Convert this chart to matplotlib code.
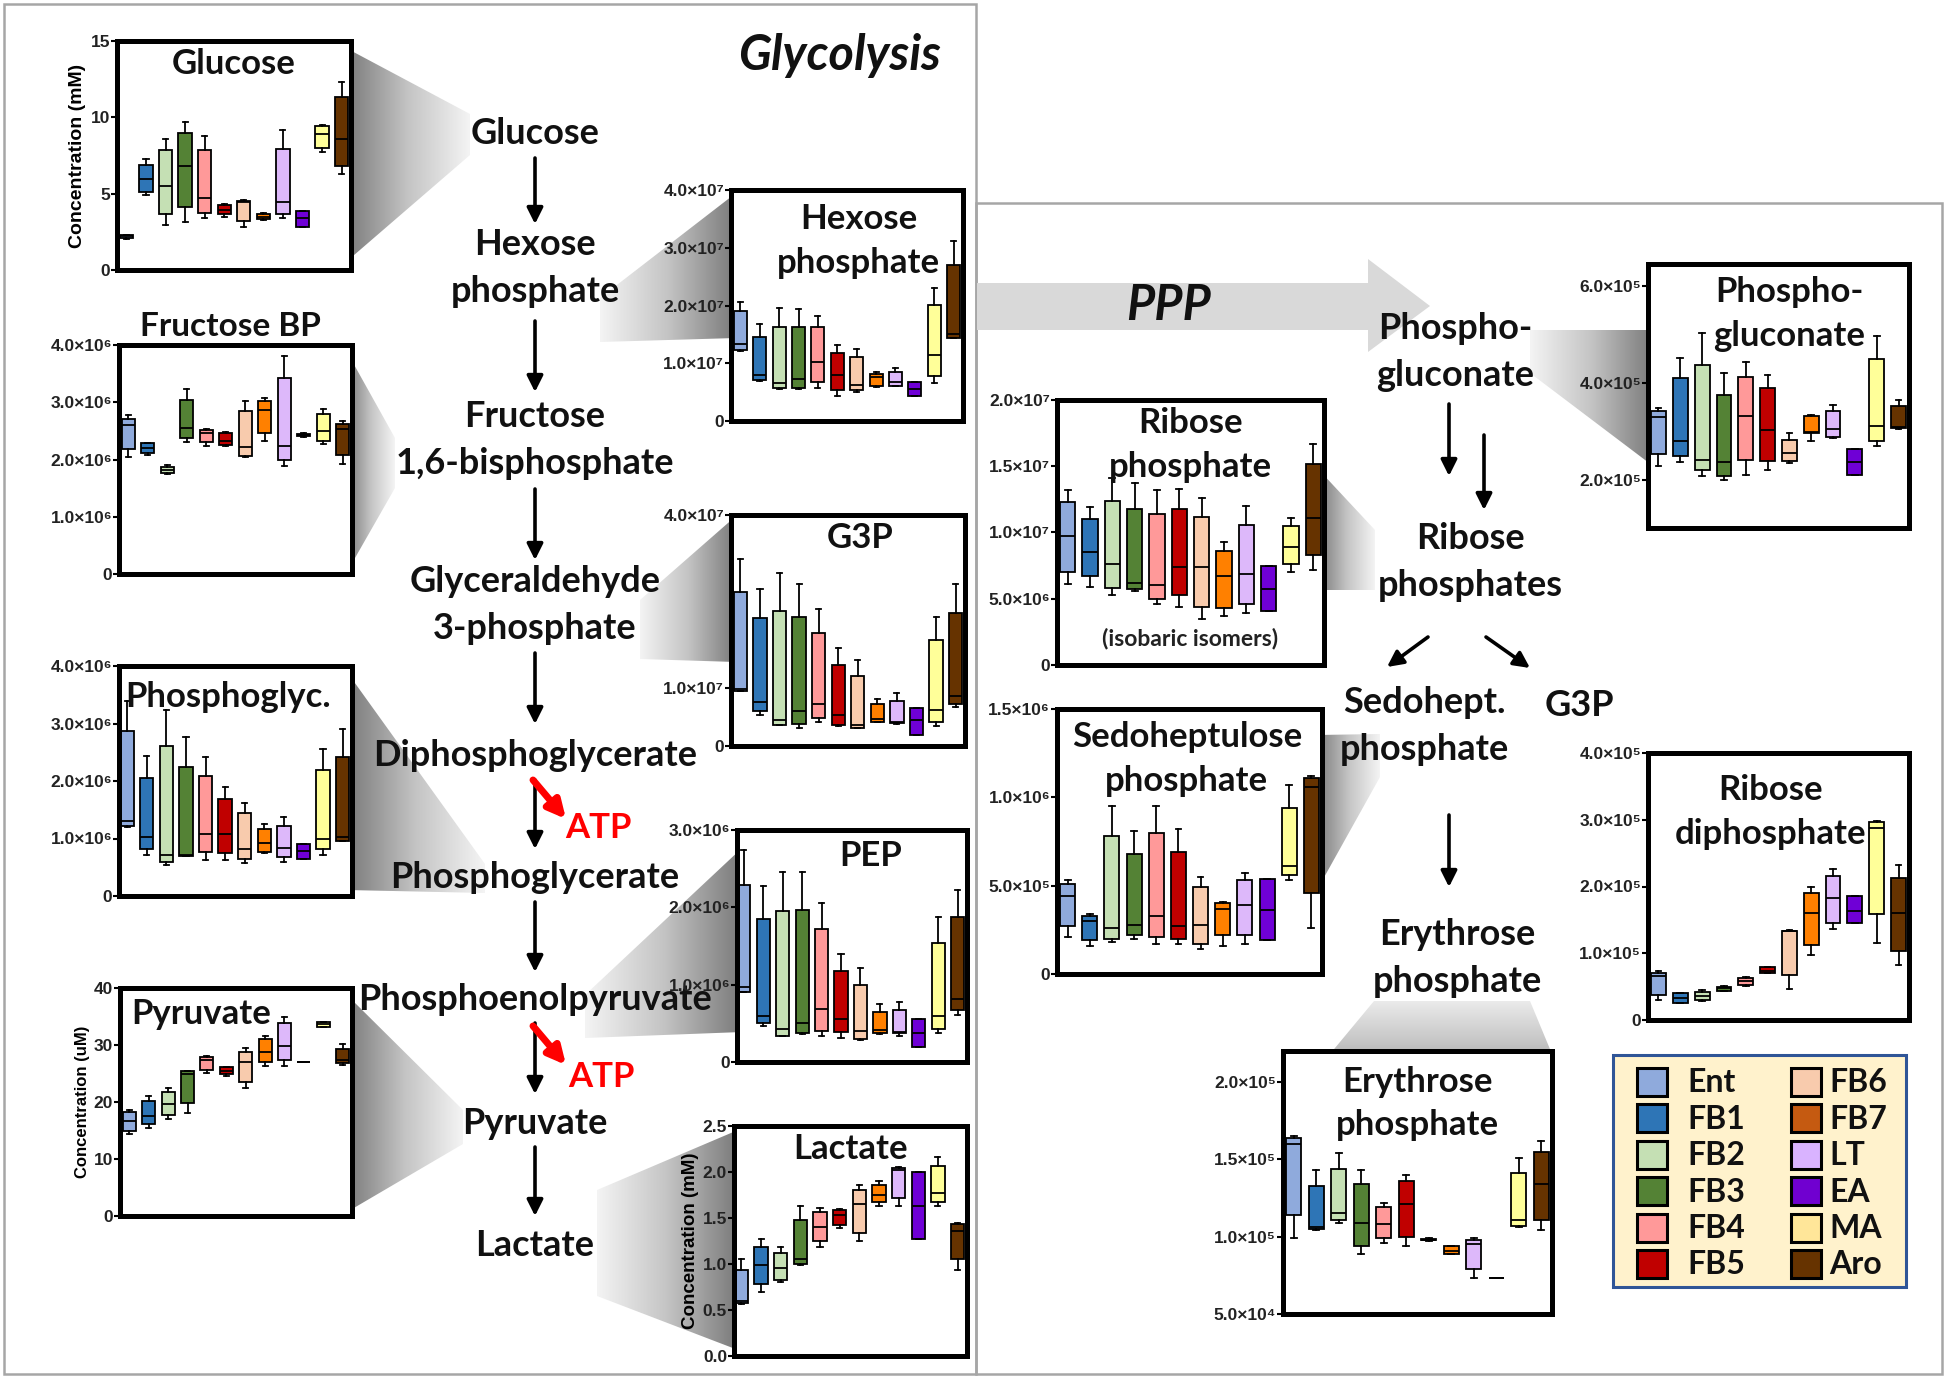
import numpy as np
import matplotlib
matplotlib.use('Agg')
import matplotlib.pyplot as plt
from matplotlib.patches import Rectangle, Polygon
from matplotlib.colors import LinearSegmentedColormap

plt.rcParams['font.family'] = ['Liberation Sans', 'DejaVu Sans']
LATO = ['Lato', 'DejaVu Sans']

# ---------------- data ----------------
groups = ['Ent', 'FB1', 'FB2', 'FB3', 'FB4', 'FB5', 'FB6', 'FB7', 'LT', 'EA', 'MA', 'Aro']
box_colors = ['#8FAADC', '#2E75B6', '#C5E0B4', '#548235', '#FF9999', '#C00000',
              '#F8CBAD', '#FF8000', '#DDB8FA', '#6F00D6', '#FFFF99', '#663300']
legend_colors = ['#8FAADC', '#2E75B6', '#C5E0B4', '#548235', '#FF9999', '#C00000',
                 '#F8CBAD', '#C55A11', '#D9B3FF', '#7000D0', '#FFE699', '#663300']

# five-number summaries per group: [min, q1, median, q3, max]
glucose = [[2.05, 2.1, 2.2, 2.3, 2.3], [4.9, 5.1, 5.95, 6.85, 7.25], [2.95, 3.65, 5.5, 7.85, 8.6],
           [3.15, 4.15, 6.8, 9.0, 9.7], [3.4, 3.75, 4.7, 7.85, 8.75], [3.5, 3.65, 3.95, 4.25, 4.3],
           [2.8, 3.2, 4.45, 4.55, 4.6], [3.3, 3.35, 3.5, 3.65, 3.75], [3.4, 3.7, 4.45, 7.95, 9.15],
           [2.8, 2.8, 3.4, 3.85, 3.85], [7.7, 8.0, 8.9, 9.4, 9.5], [6.3, 6.8, 8.55, 11.3, 12.3]]
fructose_bp = [[2.05, 2.18, 2.6, 2.7, 2.77], [2.08, 2.11, 2.2, 2.28, 2.29], [1.74, 1.76, 1.82, 1.87, 1.9],
               [2.3, 2.37, 2.55, 3.04, 3.23], [2.24, 2.3, 2.46, 2.52, 2.53], [2.24, 2.26, 2.33, 2.46, 2.48],
               [2.04, 2.06, 2.21, 2.84, 3.03], [2.33, 2.46, 2.86, 3.02, 3.07], [1.89, 1.99, 2.24, 3.42, 3.8],
               [2.40, 2.41, 2.43, 2.45, 2.46], [2.27, 2.33, 2.49, 2.8, 2.89], [1.92, 2.08, 2.53, 2.62, 2.68]]
phosphoglyc = [[1.2, 1.22, 1.3, 2.87, 3.39], [0.72, 0.82, 1.03, 2.06, 2.43], [0.54, 0.6, 0.72, 2.61, 3.23],
               [0.69, 0.7, 0.72, 2.24, 2.77], [0.63, 0.77, 1.07, 2.09, 2.42], [0.63, 0.74, 1.07, 1.68, 1.9],
               [0.57, 0.64, 0.82, 1.44, 1.62], [0.74, 0.77, 0.93, 1.16, 1.26], [0.6, 0.67, 0.84, 1.22, 1.38],
               [0.64, 0.64, 0.78, 0.9, 0.9], [0.72, 0.82, 1.0, 2.19, 2.56], [0.95, 0.96, 1.03, 2.42, 2.9]]
pyruvate = [[14.3, 14.9, 16.6, 18.2, 18.6], [15.5, 16.1, 17.6, 20.2, 21.1], [17.1, 17.7, 19.7, 21.8, 22.4],
            [18.0, 19.9, 24.9, 25.4, 25.5], [25.1, 25.7, 27.3, 27.9, 28.0], [24.5, 24.9, 25.5, 26.1, 26.2],
            [22.4, 23.5, 27.1, 28.8, 29.5], [26.4, 27.1, 28.8, 31.0, 31.6], [26.4, 27.3, 29.8, 33.8, 34.9],
            [27.1, 27.1, 27.1, 27.1, 27.1], [33.2, 33.2, 33.6, 34.0, 34.0], [26.5, 26.8, 27.3, 29.3, 30.1]]
hexose_p = [[1.22, 1.23, 1.33, 1.9, 2.06], [0.69, 0.71, 0.8, 1.46, 1.68], [0.56, 0.57, 0.66, 1.62, 1.96],
            [0.56, 0.58, 0.72, 1.62, 1.94], [0.57, 0.68, 1.02, 1.62, 1.81], [0.44, 0.53, 0.79, 1.17, 1.31],
            [0.5, 0.53, 0.63, 1.1, 1.24], [0.59, 0.6, 0.76, 0.82, 0.84], [0.6, 0.61, 0.67, 0.84, 0.91],
            [0.44, 0.44, 0.55, 0.68, 0.68], [0.65, 0.78, 1.15, 2.01, 2.31], [1.43, 1.43, 1.5, 2.7, 3.11]]
g3p = [[0.95, 0.96, 0.99, 2.67, 3.24], [0.53, 0.6, 0.77, 2.21, 2.72], [0.36, 0.37, 0.45, 2.33, 2.99],
       [0.31, 0.38, 0.6, 2.24, 2.8], [0.41, 0.48, 0.72, 1.96, 2.37], [0.35, 0.37, 0.53, 1.41, 1.69],
       [0.31, 0.32, 0.37, 1.22, 1.49], [0.41, 0.42, 0.47, 0.72, 0.81], [0.38, 0.39, 0.41, 0.78, 0.91],
       [0.19, 0.19, 0.45, 0.65, 0.65], [0.35, 0.42, 0.63, 1.83, 2.24], [0.67, 0.73, 0.87, 2.3, 2.8]]
pep = [[0.9, 0.91, 0.97, 2.29, 2.74], [0.47, 0.5, 0.59, 1.85, 2.27], [0.33, 0.34, 0.43, 1.95, 2.46],
       [0.36, 0.37, 0.5, 1.96, 2.46], [0.33, 0.4, 0.68, 1.72, 2.06], [0.31, 0.39, 0.56, 1.18, 1.4],
       [0.28, 0.3, 0.4, 1.0, 1.22], [0.36, 0.37, 0.42, 0.65, 0.75], [0.33, 0.37, 0.39, 0.67, 0.78],
       [0.19, 0.19, 0.37, 0.55, 0.55], [0.37, 0.43, 0.59, 1.54, 1.88], [0.61, 0.67, 0.82, 1.87, 2.23]]
lactate = [[0.57, 0.58, 0.6, 0.93, 1.05], [0.7, 0.78, 0.99, 1.19, 1.27], [0.8, 0.83, 0.96, 1.12, 1.19],
           [0.99, 1.0, 1.05, 1.48, 1.63], [1.19, 1.25, 1.4, 1.57, 1.61], [1.39, 1.42, 1.53, 1.59, 1.6],
           [1.25, 1.34, 1.65, 1.8, 1.86], [1.63, 1.67, 1.75, 1.86, 1.9], [1.63, 1.72, 2.02, 2.04, 2.05],
           [1.27, 1.27, 1.63, 2.0, 2.0], [1.63, 1.67, 1.77, 2.06, 2.16], [0.93, 1.05, 1.36, 1.43, 1.45]]
ribose_p = [[0.61, 0.7, 0.97, 1.23, 1.32], [0.59, 0.67, 0.85, 1.1, 1.19], [0.53, 0.58, 0.76, 1.24, 1.41],
            [0.56, 0.57, 0.62, 1.18, 1.37], [0.46, 0.5, 0.6, 1.14, 1.32], [0.44, 0.53, 0.74, 1.18, 1.33],
            [0.35, 0.44, 0.74, 1.12, 1.26], [0.37, 0.43, 0.67, 0.86, 0.93], [0.39, 0.46, 0.69, 1.06, 1.2],
            [0.41, 0.41, 0.57, 0.75, 0.75], [0.7, 0.76, 0.89, 1.05, 1.11], [0.72, 0.83, 1.11, 1.52, 1.67]]
sedoheptulose_p = [[0.21, 0.27, 0.44, 0.51, 0.53], [0.16, 0.19, 0.3, 0.33, 0.34], [0.18, 0.2, 0.26, 0.78, 0.95],
                   [0.2, 0.22, 0.28, 0.68, 0.81], [0.17, 0.21, 0.33, 0.8, 0.95], [0.17, 0.2, 0.27, 0.69, 0.82],
                   [0.14, 0.17, 0.28, 0.49, 0.55], [0.16, 0.22, 0.37, 0.4, 0.41], [0.17, 0.22, 0.39, 0.53, 0.57],
                   [0.19, 0.19, 0.36, 0.54, 0.54], [0.53, 0.56, 0.61, 0.94, 1.07], [0.26, 0.46, 1.06, 1.11, 1.12]]
phosphogluconate = [[2.29, 2.52, 3.29, 3.42, 3.47], [2.37, 2.48, 2.8, 4.09, 4.5], [2.07, 2.19, 2.41, 4.37, 5.02],
                    [1.99, 2.08, 2.37, 3.75, 4.2], [2.1, 2.41, 3.32, 4.12, 4.42], [2.19, 2.39, 3.02, 3.9, 4.16],
                    [2.34, 2.38, 2.55, 2.82, 2.96], [2.8, 2.96, 2.98, 3.32, 3.33], [2.85, 2.87, 3.04, 3.42, 3.54],
                    [2.1, 2.1, 2.37, 2.63, 2.63], [2.7, 2.8, 3.11, 4.49, 4.97], [3.05, 3.06, 3.08, 3.51, 3.65]]
ribose_dp = [[0.3, 0.38, 0.66, 0.7, 0.73], [0.25, 0.26, 0.33, 0.4, 0.41], [0.29, 0.3, 0.36, 0.42, 0.45],
             [0.43, 0.44, 0.48, 0.5, 0.51], [0.51, 0.53, 0.58, 0.63, 0.64], [0.7, 0.7, 0.74, 0.79, 0.8],
             [0.46, 0.68, 1.33, 1.34, 1.35], [0.97, 1.13, 1.61, 1.9, 1.99], [1.36, 1.46, 1.83, 2.15, 2.26],
             [1.46, 1.46, 1.64, 1.86, 1.86], [1.16, 1.59, 2.87, 2.96, 2.98], [0.83, 1.03, 1.6, 2.12, 2.32]]
erythrose_p = [[0.99, 1.14, 1.6, 1.64, 1.65], [1.04, 1.05, 1.06, 1.33, 1.43], [1.09, 1.11, 1.15, 1.44, 1.54],
               [0.89, 0.94, 1.09, 1.34, 1.43], [0.96, 0.99, 1.08, 1.19, 1.22], [0.94, 1.0, 1.21, 1.36, 1.4],
               [0.975, 0.978, 0.98, 0.985, 0.99], [0.89, 0.89, 0.91, 0.94, 0.94], [0.73, 0.79, 0.95, 0.98, 0.99],
               [0.73, 0.73, 0.73, 0.73, 0.73], [1.06, 1.07, 1.11, 1.41, 1.51], [1.04, 1.11, 1.34, 1.55, 1.62]]

# tick values (in the axis units) and their labels
glucose_ticks = [0, 5, 10, 15];  glucose_labels = ['0', '5', '10', '15']
e6_ticks = [0, 1, 2, 3, 4];      e6_labels = ['0', '1.0×10⁶', '2.0×10⁶', '3.0×10⁶', '4.0×10⁶']
pyruvate_ticks = [0, 10, 20, 30, 40]; pyruvate_labels = ['0', '10', '20', '30', '40']
hexose_ticks = [0, 1, 2, 3, 4];  hexose_labels = ['0', '1.0×10⁷', '2.0×10⁷', '3.0×10⁷', '4.0×10⁷']
g3p_ticks = [0, 1, 4];           g3p_labels = ['0', '1.0×10⁷', '4.0×10⁷']
pep_ticks = [0, 1, 2, 3];        pep_labels = ['0', '1.0×10⁶', '2.0×10⁶', '3.0×10⁶']
lactate_ticks = [0, 0.5, 1.0, 1.5, 2.0, 2.5]; lactate_labels = ['0.0', '0.5', '1.0', '1.5', '2.0', '2.5']
ribp_ticks = [0, 0.5, 1.0, 1.5, 2.0]; ribp_labels = ['0', '5.0×10⁶', '1.0×10⁷', '1.5×10⁷', '2.0×10⁷']
sedo_ticks = [0, 0.5, 1.0, 1.5]; sedo_labels = ['0', '5.0×10⁵', '1.0×10⁶', '1.5×10⁶']
pg_ticks = [2, 4, 6];            pg_labels = ['2.0×10⁵', '4.0×10⁵', '6.0×10⁵']
rdp_ticks = [0, 1, 2, 3, 4];     rdp_labels = ['0', '1.0×10⁵', '2.0×10⁵', '3.0×10⁵', '4.0×10⁵']
ery_ticks = [0.5, 1.0, 1.5, 2.0]; ery_labels = ['5.0×10⁴', '1.0×10⁵', '1.5×10⁵', '2.0×10⁵']

# ---------------- figure ----------------
W, H = 1950, 1380
fig = plt.figure(figsize=(W / 100, H / 100), dpi=100)
fig.patch.set_facecolor('white')
bg = fig.add_axes([0, 0, 1, 1], zorder=0)
bg.set_xlim(0, W); bg.set_ylim(H, 0); bg.axis('off')

bg.add_patch(Rectangle((4, 4), 972, 1370, fill=False, ec='#A6A6A6', lw=1.8, zorder=1))
bg.add_patch(Rectangle((976, 203), 966, 1171, fill=False, ec='#A6A6A6', lw=1.8, zorder=1))

fcmap = LinearSegmentedColormap.from_list('funnel', ['#F4F4F4', '#C4C4C4', '#7A7A7A'])


def funnel(pts, dark):
    poly = Polygon(pts, closed=True, fc='none', ec='none')
    bg.add_patch(poly)
    xs = [p[0] for p in pts]; ys = [p[1] for p in pts]
    if dark == 'down':
        grad = np.linspace(0.1, 0.6, 256).reshape(-1, 1)
    else:
        grad = np.linspace(0, 1, 256).reshape(1, -1)
        if dark == 'left':
            grad = grad[:, ::-1]
    im = bg.imshow(grad, extent=[min(xs), max(xs), max(ys), min(ys)], cmap=fcmap,
                   vmin=0, vmax=1, aspect='auto', interpolation='bilinear', zorder=2)
    im.set_clip_path(poly)


funnel([(346, 48), (470, 114), (470, 155), (346, 262)], 'left')
funnel([(347, 352), (395, 438), (395, 488), (347, 572)], 'left')
funnel([(347, 672), (485, 864), (485, 893), (347, 890)], 'left')
funnel([(347, 995), (463, 1110), (463, 1144), (347, 1212)], 'left')
funnel([(600, 298), (736, 193), (736, 338), (600, 342)], 'right')
funnel([(640, 600), (736, 516), (736, 662), (640, 659)], 'right')
funnel([(585, 995), (742, 848), (742, 1032), (585, 1038)], 'right')
funnel([(597, 1190), (738, 1130), (738, 1350), (597, 1296)], 'right')
funnel([(1319, 470), (1375, 530), (1375, 590), (1319, 590)], 'left')
funnel([(1317, 735), (1380, 734), (1380, 777), (1317, 890)], 'left')
funnel([(1530, 330), (1653, 330), (1653, 466), (1530, 373)], 'right')
funnel([(1374, 1001), (1530, 1001), (1552, 1054), (1330, 1054)], 'down')
bg.set_xlim(0, W); bg.set_ylim(H, 0)

# PPP block arrow
bg.add_patch(Polygon([(977, 283), (1368, 283), (1368, 259), (1430, 306), (1368, 352), (1368, 330), (977, 330)],
                     closed=True, fc='#D9D9D9', ec='none', zorder=2))


def arrow(x0, y0, x1, y1, color='black', lw=2.6, ms=24):
    bg.annotate('', xy=(x1, y1), xytext=(x0, y0), zorder=4,
                arrowprops=dict(arrowstyle='-|>', color=color, lw=lw, mutation_scale=ms,
                                shrinkA=0, shrinkB=0))


for y0, y1 in [(158, 224), (321, 392), (489, 560), (653, 724), (780, 849), (902, 972), (1023, 1094), (1147, 1216)]:
    arrow(535, y0, 535, y1)
arrow(533, 780, 566, 819, color='#FF0000', lw=5, ms=26)
arrow(533, 1026, 566, 1065, color='#FF0000', lw=5, ms=26)
arrow(1449, 404, 1449, 476)
arrow(1484, 435, 1484, 510)
arrow(1428, 637, 1387, 667)
arrow(1486, 637, 1530, 668)
arrow(1449, 815, 1449, 887)

lab_kw = dict(family=LATO, fontweight='bold', fontsize=26, ha='center', va='center', zorder=5,
              linespacing=1.5, color='#111111')
bg.text(535, 133, 'Glucose', **lab_kw)
bg.text(535, 268, 'Hexose\nphosphate', **lab_kw)
bg.text(535, 440, 'Fructose\n1,6-bisphosphate', **lab_kw)
bg.text(535, 605, 'Glyceraldehyde\n3-phosphate', **lab_kw)
bg.text(535, 755, 'Diphosphoglycerate', **lab_kw)
bg.text(535, 877, 'Phosphoglycerate', **lab_kw)
bg.text(535, 999, 'Phosphoenolpyruvate', **lab_kw)
bg.text(535, 1123, 'Pyruvate', **lab_kw)
bg.text(535, 1245, 'Lactate', **lab_kw)
atp_kw = dict(lab_kw); atp_kw['color'] = '#FF0000'; atp_kw['fontsize'] = 25
bg.text(598, 828, 'ATP', **atp_kw)
bg.text(601, 1077, 'ATP', **atp_kw)
bg.text(1455, 352, 'Phospho-\ngluconate', **lab_kw)
bg.text(1470, 562, 'Ribose\nphosphates', **lab_kw)
bg.text(1424, 726, 'Sedohept.\nphosphate', **lab_kw)
bg.text(1579, 705, 'G3P', **lab_kw)
bg.text(1457, 958, 'Erythrose\nphosphate', **lab_kw)
bg.text(839, 56, 'Glycolysis', family=LATO, fontweight='bold', fontstyle='italic', fontsize=35,
        ha='center', va='center', zorder=5, color='#111111')
bg.text(1169, 305, 'PPP', family=LATO, fontweight='bold', fontstyle='italic', fontsize=35,
        ha='center', va='center', zorder=5, color='#111111')
bg.text(230, 327, 'Fructose BP', family=LATO, fontweight='bold', fontsize=24,
        ha='center', va='center', zorder=5, color='#111111')

# legend
bg.add_patch(Rectangle((1613, 1055), 293, 232, fc='#FFF2CC', ec='#2F5597', lw=2.2, zorder=3))
for i, (g, c) in enumerate(zip(groups, legend_colors)):
    col, row = divmod(i, 6)
    yc = 1082 + row * 36.4
    xp = 1637 if col == 0 else 1791
    bg.add_patch(Rectangle((xp, yc - 14), 30, 28, fc=c, ec='black', lw=2.2, zorder=4))
    bg.text(xp + 50 if col == 0 else xp + 38, yc + 1, g, family=LATO, fontweight='bold', fontsize=23,
            ha='left', va='center', zorder=5, color='#111111')


def panel(frame, data, ylim, ticks, labels, title, tpos, tsize=25, ylabel=None, ylsize=13,
          xlim=(-0.48, 11.48)):
    x0, y0, x1, y1 = frame
    ax = fig.add_axes([x0 / W, 1 - y1 / H, (x1 - x0) / W, (y1 - y0) / H], zorder=3)
    stats = [dict(whislo=s[0], q1=s[1], med=s[2], q3=s[3], whishi=s[4]) for s in data]
    bp = ax.bxp(stats, positions=np.arange(len(groups)), widths=0.68, capwidths=0.26,
                patch_artist=True, showfliers=False,
                boxprops=dict(edgecolor='black', linewidth=1.3),
                whiskerprops=dict(color='black', linewidth=1.3),
                capprops=dict(color='black', linewidth=1.3),
                medianprops=dict(color='black', linewidth=1.3))
    for patch, c in zip(bp['boxes'], box_colors):
        patch.set_facecolor(c)
    ax.set_xlim(*xlim)
    ax.set_ylim(*ylim)
    ax.set_xticks([])
    ax.set_yticks(ticks)
    ax.set_yticklabels(labels, fontsize=12.5, fontweight='bold', color='#222222')
    ax.tick_params(axis='y', direction='out', length=4, width=1.5, pad=1)
    for sp in ax.spines.values():
        sp.set_linewidth(3.6)
        sp.set_color('black')
    if ylabel:
        ax.set_ylabel(ylabel, fontsize=ylsize, fontweight='bold', labelpad=3)
    if title:
        ax.text(tpos[0], tpos[1], title, transform=ax.transAxes, ha='center', va='center',
                family=LATO, fontweight='bold', fontsize=tsize, linespacing=1.45, zorder=6,
                color='#111111')
    return ax


panel((117, 41, 351, 270), glucose, (0, 15), glucose_ticks, glucose_labels, 'Glucose', (0.5, 0.90),
      ylabel='Concentration (mM)', ylsize=14)
panel((119, 345, 352, 574), fructose_bp, (0, 4), e6_ticks, e6_labels, None, None)
panel((119, 666, 352, 896), phosphoglyc, (0, 4), e6_ticks, e6_labels, 'Phosphoglyc.', (0.47, 0.865),
      xlim=(-0.42, 11.48))
panel((120, 988, 352, 1216), pyruvate, (0, 40), pyruvate_ticks, pyruvate_labels, 'Pyruvate', (0.35, 0.885),
      ylabel='Concentration (uM)', ylsize=12)
panel((731, 190, 963, 421), hexose_p, (0, 4), hexose_ticks, hexose_labels, 'Hexose\nphosphate', (0.55, 0.78))
panel((731, 515, 965, 746), g3p, (0, 4), g3p_ticks, g3p_labels, 'G3P', (0.55, 0.90))
panel((737, 830, 967, 1062), pep, (0, 3), pep_ticks, pep_labels, 'PEP', (0.58, 0.89), xlim=(-0.35, 11.48))
panel((734, 1126, 967, 1356), lactate, (0, 2.5), lactate_ticks, lactate_labels, 'Lactate', (0.50, 0.90),
      ylabel='Concentration (mM)', ylsize=13.5, xlim=(-0.38, 11.48))
ax_rp = panel((1057, 400, 1324, 665), ribose_p, (0, 2.0), ribp_ticks, ribp_labels, 'Ribose\nphosphate', (0.50, 0.83))
ax_rp.text(0.5, 0.10, '(isobaric isomers)', transform=ax_rp.transAxes, ha='center', va='center',
           family=LATO, fontweight='bold', fontsize=16.5, zorder=6, color='#222222')
panel((1057, 709, 1322, 974), sedoheptulose_p, (0, 1.5), sedo_ticks, sedo_labels, 'Sedoheptulose\nphosphate',
      (0.49, 0.81))
panel((1648, 264, 1909, 528), phosphogluconate, (1.0, 6.45), pg_ticks, pg_labels, 'Phospho-\ngluconate',
      (0.54, 0.81))
panel((1648, 753, 1909, 1020), ribose_dp, (0, 4), rdp_ticks, rdp_labels, 'Ribose\ndiphosphate', (0.47, 0.78))
panel((1283, 1051, 1552, 1314), erythrose_p, (0.5, 2.2), ery_ticks, ery_labels, 'Erythrose\nphosphate',
      (0.50, 0.80))

fig.savefig('out.png', dpi=100, facecolor='white')
